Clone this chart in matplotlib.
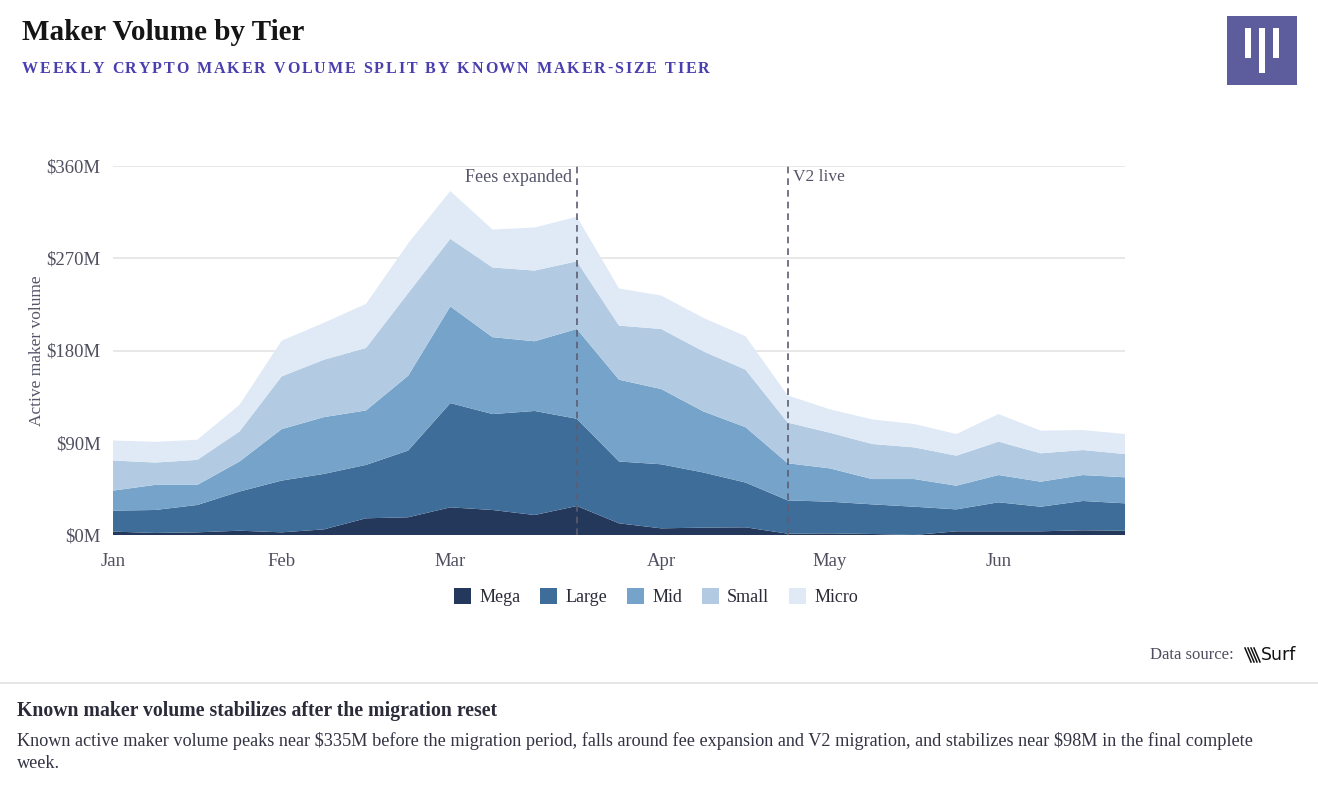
import matplotlib
matplotlib.use("Agg")
import matplotlib.pyplot as plt
from matplotlib.patches import Patch, Rectangle
from matplotlib.transforms import IdentityTransform
import pandas as pd
import numpy as np

plt.rcParams['font.family'] = ['Liberation Serif', 'DejaVu Serif']

# weekly buckets (Mondays)
weeks = pd.date_range('2026-01-05', periods=25, freq='W-MON')

tiers = ['Mega', 'Large', 'Mid', 'Small', 'Micro']
mega  = [3.3, 2.0, 2.6, 4.2, 2.6, 5.5, 16.3, 17.3, 27.0, 24.4, 19.5, 28.3, 11.4,
         6.5, 7.2, 7.5, 1.3, 1.6, 1.0, 0.0, 3.6, 3.6, 3.6, 4.6, 4.2]
large = [20.5, 22.4, 26.7, 38.2, 50.5, 54.1, 52.1, 65.1, 101.7, 93.6, 101.5, 85.1, 60.3,
         62.5, 53.8, 43.7, 32.5, 30.9, 28.9, 27.6, 21.4, 28.3, 24.0, 28.6, 26.7]
mid   = [19.5, 24.5, 19.6, 29.3, 50.2, 55.4, 53.1, 73.0, 94.3, 75.0, 68.0, 87.6, 79.8,
         73.4, 59.6, 54.0, 36.2, 32.5, 24.7, 27.0, 23.1, 26.6, 24.4, 25.3, 25.4]
small = [29.4, 21.8, 24.4, 29.3, 51.5, 56.0, 61.0, 80.6, 66.0, 68.0, 69.0, 66.0, 52.8,
         58.6, 58.6, 56.1, 39.7, 34.8, 34.2, 30.9, 29.3, 32.5, 27.7, 24.4, 22.7]
micro = [19.5, 20.2, 19.6, 26.0, 34.8, 36.0, 43.0, 48.5, 46.6, 37.0, 42.0, 43.5, 36.2,
         32.6, 32.6, 32.6, 26.5, 22.8, 24.0, 22.8, 21.1, 27.0, 22.1, 19.5, 19.5]
colors = ['#23385a', '#3e6d99', '#75a3ca', '#b2cbe2', '#dfeaf6']

yticks = [0, 90, 180, 270, 360]
month_ticks = [0, 4, 8, 13, 17, 21]
month_labels = ['Jan', 'Feb', 'Mar', 'Apr', 'May', 'Jun']
events = [(11, 'Fees expanded', 'right'), (16, 'V2 live', 'left')]

W, H = 1318, 796
fig = plt.figure(figsize=(W / 100, H / 100), dpi=100)
fig.patch.set_facecolor('white')

ax = fig.add_axes([113 / W, 1 - 535 / H, (1125 - 113) / W, (535 - 166) / H])
ax.stackplot(weeks, mega, large, mid, small, micro, colors=colors, lw=0, zorder=2)
ax.set_xlim(weeks[0], weeks[-1])
ax.set_ylim(0, 360)
ax.set_yticks(yticks)
ax.set_yticklabels([f'${v}M' for v in yticks])
ax.set_xticks([weeks[i] for i in month_ticks])
ax.set_xticklabels(month_labels)
ax.grid(axis='y', color='#e6e6e6', lw=1.3, zorder=0)
ax.set_axisbelow(True)
for s in ax.spines.values():
    s.set_visible(False)
ax.tick_params(length=0, labelsize=13.5, labelcolor='#4f4f60')
ax.tick_params(axis='y', pad=9)
ax.tick_params(axis='x', pad=13)
ax.set_ylabel('Active maker volume', fontsize=12.5, color='#55556a', labelpad=1)

for i, label, ha in events:
    ax.axvline(weeks[i], color='#5d5d73', lw=1.2, ls=(0, (4, 3)), zorder=3)
    dx = -5 if ha == 'right' else 5
    ax.annotate(label, (weeks[i], 360), xytext=(dx, -11), textcoords='offset pixels',
                ha=ha, va='center', fontsize=13 if ha == 'right' else 12.5, color='#55556a')

handles = [Patch(facecolor=c, edgecolor='none', label=t) for c, t in zip(colors, tiers)]
fig.legend(handles=handles, loc='center', bbox_to_anchor=(656 / W, 1 - 597 / H), ncol=5,
           frameon=False, fontsize=13, handlelength=0.95, handleheight=0.95,
           handletextpad=0.45, columnspacing=1.1, labelcolor='#2b2b3a')

# header
fig.text(22 / W, 1 - 33 / H, 'Maker Volume by Tier', fontsize=21, fontweight='bold',
         color='#151515', va='center')

# letter-spaced subtitle
renderer = fig.canvas.get_renderer()
xp = 22
for ch in 'WEEKLY CRYPTO MAKER VOLUME SPLIT BY KNOWN MAKER-SIZE TIER':
    if ch == ' ':
        xp += 6
        continue
    t = fig.text(xp, H - 69, ch, transform=IdentityTransform(), fontsize=11.5,
                 fontweight='bold', color='#4a3fae', va='center')
    xp += t.get_window_extent(renderer).width + 1.9

# logo
fig.patches.append(Rectangle((1227, H - 85), 70, 69, transform=IdentityTransform(),
                             facecolor='#5d5c9c', edgecolor='none'))
for bx, top, bot in [(1245, 28, 58), (1259, 28, 73), (1273, 28, 58)]:
    fig.patches.append(Rectangle((bx, H - bot), 6, bot - top, transform=IdentityTransform(),
                                 facecolor='white', edgecolor='none'))

# data source
fig.text(1234 / W, 1 - 655 / H, 'Data source:', ha='right', va='center', fontsize=12,
         color='#4f4f60')
for k in range(4):
    fig.lines.append(plt.Line2D([1245 + k * 3, 1251 + k * 3], [H - 648, H - 662],
                                transform=IdentityTransform(), color='#111', lw=1.1))
fig.text(1261 / W, 1 - 655 / H, 'Surf', ha='left', va='center', fontsize=12.5,
         family='DejaVu Sans', color='#111')

# footer
fig.lines.append(plt.Line2D([0, 1], [1 - 683 / H] * 2, transform=fig.transFigure,
                            color='#e2e2e2', lw=1.2))
fig.text(17 / W, 1 - 711 / H, 'Known maker volume stabilizes after the migration reset',
         fontsize=14.2, fontweight='bold', color='#2b2b3a', va='center')
fig.text(17 / W, 1 - 741 / H,
         r'Known active maker volume peaks near \$335M before the migration period, falls around '
         r'fee expansion and V2 migration, and stabilizes near \$98M in the final complete',
         fontsize=13.15, color='#333344', va='center')
fig.text(17 / W, 1 - 764 / H, 'week.', fontsize=13.15, color='#333344', va='center')

fig.savefig('out.png', dpi=100, facecolor='white')
